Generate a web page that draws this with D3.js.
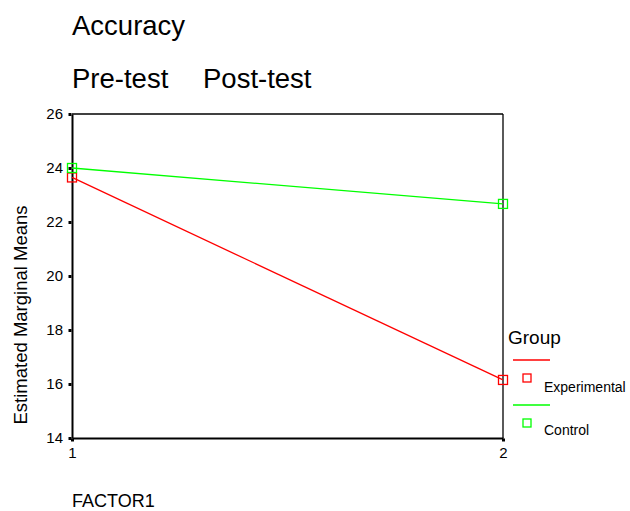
<!DOCTYPE html>
<html><head><meta charset="utf-8">
<script src="https://cdn.jsdelivr.net/npm/d3@7"></script>
<style>body{margin:0;background:#fff}svg{display:block}text{font-family:"Liberation Sans",Arial,sans-serif;fill:#000}</style>
</head><body>
<svg id="c" width="630" height="511"></svg>
<script>
const factorLevels = [1, 2];
const groups = ["Experimental", "Control"];
const groupColors = ["#ff0000", "#00ff00"];
const experimental = [23.65, 16.15];
const control = [24.0, 22.67];
const yTicks = [14, 16, 18, 20, 22, 24, 26];
const xTicks = [1, 2];

const svg = d3.select("#c");
const x = d3.scaleLinear().domain([1, 2]).range([72, 503]);
const y = d3.scaleLinear().domain([14, 26]).range([438, 114]);

// titles
svg.append("text").attr("x", 72).attr("y", 35).attr("font-size", 27.5).text("Accuracy");
svg.append("text").attr("x", 72).attr("y", 88).attr("font-size", 27.5).text("Pre-test");
svg.append("text").attr("x", 203).attr("y", 88).attr("font-size", 27.5).text("Post-test");

// frame: top and right thin lines
svg.append("line").attr("x1", x(1)).attr("x2", x(2)).attr("y1", y(26)).attr("y2", y(26)).attr("stroke", "#000").attr("stroke-width", 1.3);
svg.append("line").attr("x1", x(2)).attr("x2", x(2)).attr("y1", y(26)).attr("y2", y(14)).attr("stroke", "#000").attr("stroke-width", 1.3);

// y axis
const ya = svg.append("g").attr("transform", `translate(${x(1)},0)`)
  .call(d3.axisLeft(y).tickValues(yTicks).tickSize(0).tickPadding(9).tickFormat(d3.format("d")));
ya.select(".domain").attr("stroke", "#000").attr("stroke-width", 2);
ya.selectAll("text").attr("font-size", 15).attr("font-family", '"Liberation Sans",Arial,sans-serif').attr("fill", "#000");
ya.selectAll(".tick").append("rect").attr("x", -3.5).attr("y", -1.5).attr("width", 3).attr("height", 3).attr("fill", "#000");

// x axis
const xa = svg.append("g").attr("transform", `translate(0,${y(14)})`)
  .call(d3.axisBottom(x).tickValues(xTicks).tickSize(0).tickPadding(9).tickFormat(d3.format("d")));
xa.select(".domain").attr("stroke", "#000").attr("stroke-width", 2);
xa.selectAll("text").attr("font-size", 15).attr("font-family", '"Liberation Sans",Arial,sans-serif').attr("fill", "#000");
xa.selectAll(".tick").append("rect").attr("x", -1.5).attr("y", 0.5).attr("width", 3).attr("height", 3).attr("fill", "#000");

// axis titles
svg.append("text").attr("transform", "translate(27,315) rotate(-90)").attr("text-anchor", "middle")
  .attr("font-size", 18.5).text("Estimated Marginal Means");
svg.append("text").attr("x", 72).attr("y", 507).attr("font-size", 18).text("FACTOR1");

// series
const series = [experimental, control];
const line = d3.line().x((d, i) => x(factorLevels[i])).y(d => y(d));
series.forEach((vals, si) => {
  svg.append("path").datum(vals).attr("d", line).attr("fill", "none")
    .attr("stroke", groupColors[si]).attr("stroke-width", 1.3);
  svg.selectAll(null).data(vals).enter().append("rect")
    .attr("x", (d, i) => x(factorLevels[i]) - 4.5).attr("y", d => y(d) - 4.5)
    .attr("width", 9).attr("height", 9).attr("fill", "none")
    .attr("stroke", groupColors[si]).attr("stroke-width", 1.3);
});

// legend
svg.append("text").attr("x", 508).attr("y", 344).attr("font-size", 19).text("Group");
groups.forEach((g, i) => {
  const oy = i * 45;
  svg.append("line").attr("x1", 513).attr("x2", 550).attr("y1", 360 + oy).attr("y2", 360 + oy)
    .attr("stroke", groupColors[i]).attr("stroke-width", 1.3);
  svg.append("rect").attr("x", 523).attr("y", 374 + oy).attr("width", 8).attr("height", 8)
    .attr("fill", "none").attr("stroke", groupColors[i]).attr("stroke-width", 1.3);
  svg.append("text").attr("x", 544).attr("y", 392 + oy - (i ? 2 : 0)).attr("font-size", 14).text(g);
});
</script>
</body></html>
